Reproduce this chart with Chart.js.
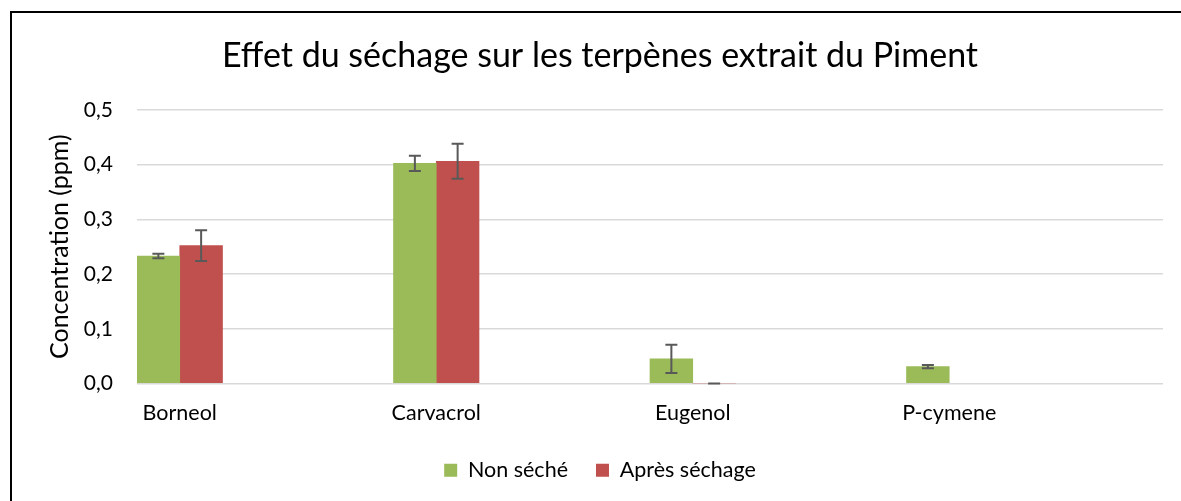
<!DOCTYPE html>
<html>
<head>
<meta charset="utf-8">
<script src="https://cdn.jsdelivr.net/npm/chart.js@4"></script>
<style>
  html, body { margin: 0; padding: 0; background: #fff; }
  canvas { display: block; }
</style>
</head>
<body>
<canvas id="chart" width="1181" height="501"></canvas>
<script>
// categories et valeurs (ppm)
var categories = ["Borneol", "Carvacrol", "Eugenol", "P-cymene"];
var nonSeche = [0.233, 0.402, 0.045, 0.031];
var nonSecheErr = [0.004, 0.014, 0.026, 0.003];
var apresSechage = [0.252, 0.406, 0, null];
var apresSechageErr = [0.028, 0.032, 0, null];
var yTicks = [0, 0.1, 0.2, 0.3, 0.4, 0.5];

var FONT = "Lato, 'Open Sans', sans-serif";
var errors = [nonSecheErr, apresSechageErr];

// cadre noir autour du graphique + fond blanc
var framePlugin = {
  id: "frame",
  beforeDraw: function (chart) {
    var ctx = chart.ctx;
    ctx.save();
    ctx.fillStyle = "#fff";
    ctx.fillRect(0, 0, chart.width, chart.height);
    ctx.strokeStyle = "#000";
    ctx.lineWidth = 2;
    ctx.strokeRect(11, 12, chart.width + 20, chart.height + 20);
    ctx.restore();
  }
};

// barres d'erreur (écart type)
var errorBarPlugin = {
  id: "errorBars",
  afterDatasetsDraw: function (chart) {
    var ctx = chart.ctx, y = chart.scales.y;
    ctx.save();
    ctx.strokeStyle = "#595959";
    ctx.lineWidth = 2;
    errors.forEach(function (errs, di) {
      var meta = chart.getDatasetMeta(di);
      var vals = chart.data.datasets[di].data;
      meta.data.forEach(function (bar, i) {
        if (vals[i] == null || errs[i] == null) return;
        var x = bar.x;
        var top = y.getPixelForValue(vals[i] + errs[i]);
        var bot = y.getPixelForValue(vals[i] - errs[i]);
        ctx.beginPath();
        ctx.moveTo(x, top); ctx.lineTo(x, bot);
        ctx.moveTo(x - 6, top); ctx.lineTo(x + 6, top);
        ctx.moveTo(x - 6, bot); ctx.lineTo(x + 6, bot);
        ctx.stroke();
      });
    });
    ctx.restore();
  }
};

var empty = categories.map(function () { return null; });
var datasets = [
  { label: "Non séché", data: nonSeche, backgroundColor: "#9BBB59" },
  { label: "Après séchage", data: apresSechage, backgroundColor: "#C0504D" }
];
// séries vides (comme dans le classeur) : elles réservent la place à droite des barres
for (var k = 0; k < 4; k++) datasets.push({ label: "", data: empty, backgroundColor: "#fff" });

new Chart(document.getElementById("chart"), {
  type: "bar",
  data: { labels: categories, datasets: datasets },
  plugins: [framePlugin, errorBarPlugin],
  options: {
    responsive: false,
    animation: false,
    categoryPercentage: 1,
    barPercentage: 1,
    layout: { padding: { left: 37, right: 18, top: 0, bottom: 10 } },
    plugins: {
      title: {
        display: true,
        text: "Effet du séchage sur les terpènes extrait du Piment",
        color: "#000",
        font: { family: FONT, size: 34, weight: "normal" },
        padding: { top: 36, bottom: 33 }
      },
      legend: {
        position: "bottom",
        labels: {
          color: "#000",
          font: { family: FONT, size: 21.5 },
          boxWidth: 13,
          boxHeight: 13,
          padding: 28,
          filter: function (item) { return item.datasetIndex < 2; }
        }
      },
      tooltip: { enabled: false }
    },
    scales: {
      x: {
        afterFit: function (s) { s.height = 48; },
        grid: { display: false, drawTicks: false },
        border: { display: false },
        ticks: { color: "#000", font: { family: FONT, size: 21.5 }, padding: 17, labelOffset: -85.5, maxRotation: 0 }
      },
      y: {
        min: 0,
        max: 0.5,
        afterFit: function (s) { s.width = 100; },
        afterBuildTicks: function (s) { s.ticks = yTicks.map(function (v) { return { value: v }; }); },
        grid: { color: "#D9D9D9", lineWidth: 1.5, drawTicks: false },
        border: { display: false },
        ticks: {
          color: "#000",
          font: { family: FONT, size: 21 },
          padding: 24,
          callback: function (v) { return v.toFixed(1).replace(".", ","); }
        },
        title: {
          display: true,
          text: "Concentration (ppm)",
          color: "#000",
          font: { family: FONT, size: 25 },
          padding: { top: 8, bottom: 0 }
        }
      }
    }
  }
});
</script>
</body>
</html>
